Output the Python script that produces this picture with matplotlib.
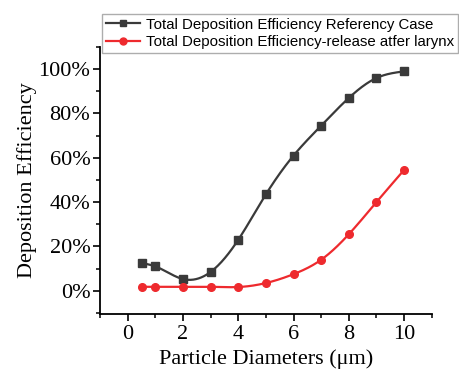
import numpy as np
import matplotlib
matplotlib.use("Agg")
import matplotlib.pyplot as plt
from matplotlib.ticker import MultipleLocator, FuncFormatter

diameters = [0.5, 1, 2, 3, 4, 5, 6, 7, 8, 9, 10]
ref_case = [0.125, 0.11, 0.053, 0.085, 0.23, 0.435, 0.61, 0.745, 0.87, 0.96, 0.99]
release_larynx = [0.018, 0.018, 0.018, 0.018, 0.017, 0.035, 0.075, 0.14, 0.255, 0.40, 0.545]
labels = ["Total Deposition Efficiency Referency Case",
          "Total Deposition Efficiency-release atfer larynx"]


def natural_spline(x, y, n=300):
    x = np.asarray(x, float); y = np.asarray(y, float)
    k = len(x); h = np.diff(x)
    A = np.zeros((k, k)); b = np.zeros(k)
    A[0, 0] = A[-1, -1] = 1
    for i in range(1, k - 1):
        A[i, i - 1] = h[i - 1]; A[i, i] = 2 * (h[i - 1] + h[i]); A[i, i + 1] = h[i]
        b[i] = 6 * ((y[i + 1] - y[i]) / h[i] - (y[i] - y[i - 1]) / h[i - 1])
    M = np.linalg.solve(A, b)
    xs = np.linspace(x[0], x[-1], n)
    idx = np.clip(np.searchsorted(x, xs) - 1, 0, k - 2)
    x0, x1 = x[idx], x[idx + 1]; hh = x1 - x0
    ys = (M[idx] * (x1 - xs) ** 3 / (6 * hh) + M[idx + 1] * (xs - x0) ** 3 / (6 * hh)
          + (y[idx] / hh - M[idx] * hh / 6) * (x1 - xs)
          + (y[idx + 1] / hh - M[idx + 1] * hh / 6) * (xs - x0))
    return xs, ys


plt.rcParams['font.family'] = ['Liberation Serif', 'DejaVu Serif']
fig = plt.figure(figsize=(4.59, 3.73), dpi=100)
ax = fig.add_axes([0.218, 0.158, 0.7225, 0.716])

series = [(ref_case, '#3a3a3a', 's'), (release_larynx, '#ee2a2e', 'o')]
handles = []
for (vals, col, mk), lab in zip(series, labels):
    xs, ys = natural_spline(diameters, vals)
    ax.plot(xs, ys, color=col, lw=1.6)
    ax.plot(diameters, vals, linestyle='none', marker=mk, color=col, ms=5.5)
    h, = ax.plot([], [], color=col, lw=1.6, marker=mk, ms=5)
    handles.append(h)

ax.set_xlim(-1, 11)
ax.set_ylim(-0.105, 1.1)
ax.xaxis.set_major_locator(MultipleLocator(2))
ax.xaxis.set_minor_locator(MultipleLocator(1))
ax.yaxis.set_major_locator(MultipleLocator(0.2))
ax.yaxis.set_minor_locator(MultipleLocator(0.1))
ax.yaxis.set_major_formatter(FuncFormatter(lambda v, p: f"{v*100:.0f}%"))
for s in ['top', 'right']:
    ax.spines[s].set_visible(False)
for s in ['left', 'bottom']:
    ax.spines[s].set_linewidth(1.3)
ax.tick_params(which='major', direction='out', length=5, width=1.2, labelsize=16, pad=3)
ax.tick_params(axis='y', which='major', pad=2)
ax.tick_params(which='minor', direction='out', length=3, width=1.1)
ax.set_xlabel("Particle Diameters (\u03bcm)", fontsize=16, labelpad=4)
ax.set_ylabel("Deposition Efficiency", fontsize=16, labelpad=1)

leg = fig.legend(handles, labels, loc='upper left', bbox_to_anchor=(0.222, 0.963),
                 frameon=True, fancybox=False, edgecolor='#999999',
                 prop={'family': 'Liberation Sans', 'size': 10.8}, handlelength=2.3,
                 borderaxespad=0, borderpad=0.25, labelspacing=0.25, handletextpad=0.4)
leg.get_frame().set_linewidth(1.0)

fig.savefig("out.png", dpi=100)
